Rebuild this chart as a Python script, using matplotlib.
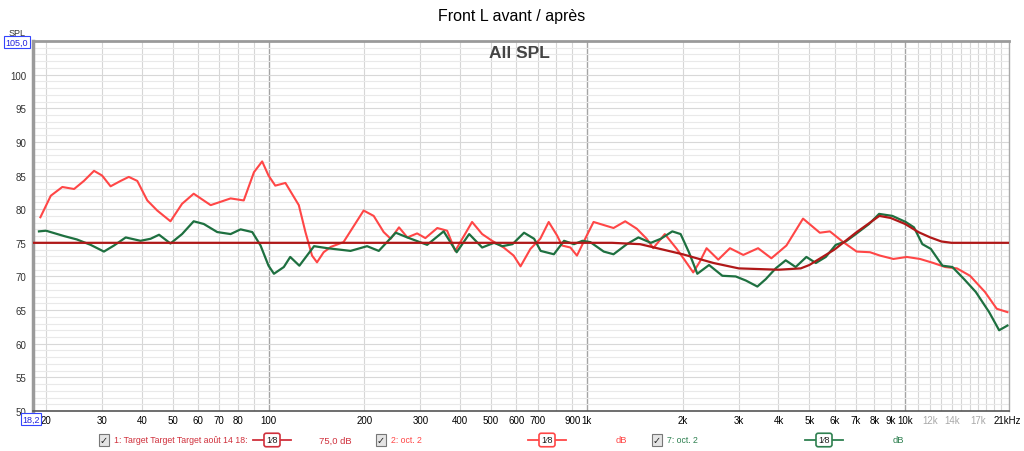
import numpy as np
import matplotlib
matplotlib.use('Agg')
import matplotlib.pyplot as plt
from matplotlib.lines import Line2D

plt.rcParams['font.family'] = ['Liberation Sans', 'DejaVu Sans']

red_f = [19.2, 20.7, 22.5, 24.5, 26.3, 28.3, 30, 31.9, 34.3, 36.4, 38.7, 41.6, 44.7, 49.2,
         53.5, 58.2, 65.8, 76, 83.6, 90, 95.5, 100, 105, 113, 124.5, 130.6, 137, 142, 149,
         157, 172, 199, 214, 230, 242, 257, 273, 293, 311, 339, 364, 386, 436, 469, 504,
         548, 589, 619, 665, 714, 759, 806, 836, 888, 931, 1000, 1050, 1213, 1320, 1435,
         1542, 1617, 1758, 1916, 2032, 2159, 2265, 2378, 2588, 2816, 3101, 3452, 3800,
         4237, 4778, 5395, 5802, 6392, 7044, 7757, 8341, 9184, 10120, 11140, 12270, 13360,
         14550, 15990, 17810, 19400, 20960]
red_db = [78.8, 82.0, 83.3, 83.0, 84.2, 85.7, 85.0, 83.4, 84.2, 84.8, 84.2, 81.3, 79.8, 78.2,
          80.8, 82.3, 80.6, 81.6, 81.3, 85.5, 87.1, 85.0, 83.5, 83.9, 80.6, 76.6, 73.1, 72.1, 73.6,
          74.4, 75.1, 79.8, 79.0, 76.6, 75.6, 77.3, 75.8, 76.4, 75.7, 77.2, 76.8, 73.8, 78.1, 76.3, 75.3,
          74.3, 73.1, 71.5, 74.1, 75.6, 78.1, 76.1, 74.6, 74.3, 73.1, 76.1, 78.1, 77.2, 78.2, 77.1,
          75.6, 74.2, 76.3, 74.1, 72.4, 70.6, 72.2, 74.2, 72.5, 74.2, 73.2, 74.2, 72.7,
          74.6, 78.6, 76.5, 76.7, 75.1, 73.7, 73.6, 73.1, 72.6, 72.9, 72.6, 72.0, 71.4,
          71.2, 70.1, 67.7, 65.2, 64.7]

green_f = [19, 20, 22.8, 25, 27.6, 30.4, 32.7, 35.6, 39.6, 42.6, 45.3, 49.2, 53.5, 58.2, 62.6,
           69, 76, 81.7, 88.9, 94.4, 100, 104, 111.7, 117, 125, 139, 153, 181, 204, 222, 251,
           273, 315, 355, 390, 427, 469, 511, 543, 584, 635, 683, 716, 788, 848, 911, 969,
           1026, 1130, 1213, 1336, 1452, 1589, 1708, 1856, 1971, 2093, 2224, 2421, 2666, 2936,
           3158, 3434, 3649, 3921, 4215, 4530, 4896, 5241, 5633, 6055, 6510, 7000, 7705, 8283,
           9118, 10040, 10660, 11330, 12040, 13100, 14080, 15320, 16670, 18360, 19740, 20960]
green_db = [76.7, 76.8, 76.0, 75.5, 74.7, 73.7, 74.6, 75.8, 75.3, 75.6, 76.2, 74.9, 76.3, 78.2, 77.8,
            76.6, 76.3, 77.0, 76.6, 74.6, 71.6, 70.4, 71.4, 72.9, 71.6, 74.5, 74.2, 73.8, 74.5, 73.8, 76.5,
            75.8, 74.7, 76.7, 73.6, 76.3, 74.3, 75.0, 74.5, 74.8, 76.5, 75.6, 73.8, 73.3, 75.3, 74.8, 75.3,
            75.1, 73.7, 73.3, 74.8, 75.8, 75.0, 75.6, 76.7, 76.3, 73.6, 70.4, 71.7, 70.1, 70.0,
            69.4, 68.5, 69.6, 71.2, 72.4, 71.4, 72.9, 72.0, 72.9, 74.7, 75.2, 76.3, 77.8, 79.3,
            79.0, 78.1, 77.3, 74.8, 74.1, 71.6, 71.4, 69.6, 67.7, 64.7, 62.0, 62.7]

target_f = [18.2, 1000, 1200, 1470, 2000, 2500, 3000, 4000, 4700, 5000, 6000, 7000, 8300,
            9000, 10000, 11000, 12000, 13000, 14000, 21200]
target_db = [75.0, 75.0, 75.0, 74.8, 73.3, 72.0, 71.2, 71.0, 71.2, 71.7, 74.0, 76.5, 79.0,
             78.7, 77.8, 76.6, 75.8, 75.2, 75.0, 75.0]

xtick_vals = [20, 30, 40, 50, 60, 70, 80, 100, 200, 300, 400, 500, 600, 700, 900, 1000,
              2000, 3000, 4000, 5000, 6000, 7000, 8000, 9000, 10000, 12000, 14000, 17000, 21000]
xtick_txt = ['20', '30', '40', '50', '60', '70', '80', '100', '200', '300', '400', '500', '600',
             '700', '900', '1k', '2k', '3k', '4k', '5k', '6k', '7k', '8k', '9k', '10k', '12k',
             '14k', '17k', '21kHz']

fig = plt.figure(figsize=(10.24, 4.52), dpi=100)
ax = fig.add_axes([33/1024, 40/452, 976/1024, 370/452])
ax.set_xscale('log')
ax.set_xlim(18.2, 21200)
ax.set_ylim(50, 105)

# grid
minor_x = [f for dec in (10, 100, 1000) for f in np.arange(2, 10) * dec if 18.2 < f]
minor_x += list(np.arange(11000, 21000, 1000))
for f in minor_x:
    ax.axvline(f, color='#d6d6d6', lw=0.8, zorder=0)
for f in (100, 1000, 10000):
    ax.axvline(f, color='#a4a4a4', lw=1.0, zorder=0)
for v in range(51, 105):
    ax.axhline(v, color='#d8d8d8' if v % 5 == 0 else '#e9e9e9', lw=0.8, zorder=0)

ax.plot(red_f, red_db, color='#ff4646', lw=1.5, zorder=3)
ax.plot(green_f, green_db, color='#1e7040', lw=1.6, zorder=4)
ax.plot(target_f, target_db, color='#b01818', lw=1.6, zorder=5)

ax.set_xticks(xtick_vals)
ax.set_xticklabels(xtick_txt)
ax.xaxis.set_minor_locator(matplotlib.ticker.NullLocator())
ax.tick_params(axis='x', length=0, pad=3, labelsize=7)
for lab, v in zip(ax.get_xticklabels(), xtick_vals):
    if v in (12000, 14000, 17000):
        lab.set_color('#a8a8a8')
ax.set_yticks(range(50, 101, 5))
ax.tick_params(axis='y', length=0, pad=5, labelsize=7, labelcolor='#333333')

ax.spines['left'].set_color('#9a9a9a')
ax.spines['left'].set_linewidth(2.5)
ax.spines['top'].set_color('#9a9a9a')
ax.spines['top'].set_linewidth(2)
ax.spines['bottom'].set_color('#555555')
ax.spines['bottom'].set_linewidth(1.2)
ax.spines['right'].set_color('#aaaaaa')
ax.spines['right'].set_linewidth(1)

fig.text(519/1024, 1 - 54/452, 'All SPL', ha='center', va='center',
         fontsize=12.5, fontweight='bold', color='#444444')

fig.text(0.5, 1 - 16/452, 'Front L avant / après', ha='center', va='center', fontsize=11.5)
fig.text(17/1024, 1 - 33/452, 'SPL', ha='center', va='center', fontsize=6.5, color='#333333')
fig.text(17/1024, 1 - 43/452, '105,0', ha='center', va='center', fontsize=6.5, color='#2222dd',
         bbox=dict(boxstyle='square,pad=0.15', fc='white', ec='#3344ff', lw=0.8))
fig.text(31/1024, 1 - 420/452, '18,2', ha='center', va='center', fontsize=6.5, color='#2222dd',
         bbox=dict(boxstyle='square,pad=0.15', fc='white', ec='#3344ff', lw=0.8), zorder=10)

# legend row
ly = 1 - 441/452
def legend_item(xbox, label, color, xline, unit, xunit):
    fig.text(xbox/1024, ly, '✓', ha='center', va='center', fontsize=7, color='#222222',
             fontweight='bold', family=['DejaVu Sans'],
             bbox=dict(boxstyle='square,pad=0.1', fc='#e4e4e4', ec='#777777', lw=0.8))
    fig.text((xbox + 10)/1024, ly, label, ha='left', va='center', fontsize=6.3, color=color)
    fig.add_artist(Line2D([xline/1024, (xline + 38)/1024], [ly, ly], color=color, lw=1.3))
    fig.text((xline + 19)/1024, ly, '1⁄8', ha='center', va='center', fontsize=6.5, color='#222222',
             bbox=dict(boxstyle='round,pad=0.25', fc='white', ec=color, lw=1.2))
    fig.text(xunit/1024, ly, unit, ha='left', va='center', fontsize=6.8, color=color)

legend_item(104, '1: Target Target Target août 14 18:', '#d0303c', 253, '75,0 dB', 319)
legend_item(381, '2: oct. 2', '#ff4646', 528, 'dB', 616)
legend_item(657, '7: oct. 2', '#2e8050', 805, 'dB', 893)

fig.savefig('out.png', dpi=100)
